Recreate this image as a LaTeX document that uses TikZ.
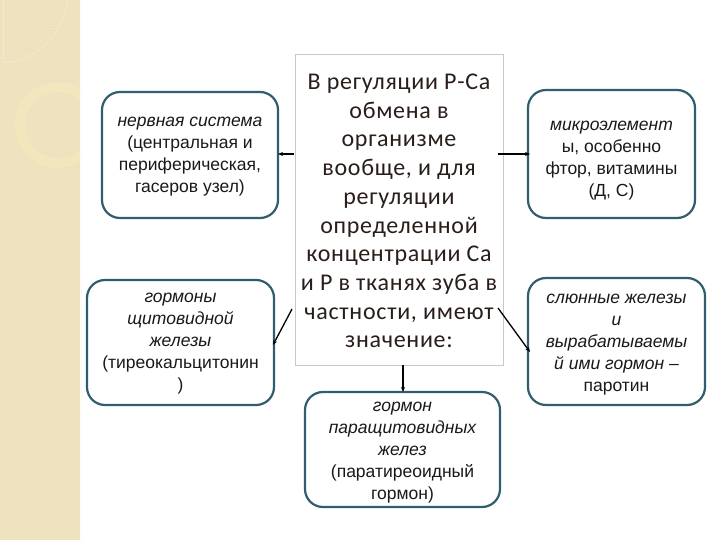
\documentclass[tikz,border=0pt]{standalone}
\usepackage{fontspec}
\setmainfont{Liberation Sans}
\newfontfamily\ctrfont[LetterSpace=3]{Carlito}
\usetikzlibrary{arrows.meta}
\definecolor{strip}{RGB}{238,225,192}
\definecolor{stripdeco}{RGB}{241,230,188}
\definecolor{boxline}{RGB}{49,94,110}
\definecolor{ctrline}{RGB}{200,200,200}
\definecolor{ctrtext}{RGB}{42,30,26}
\definecolor{boxtext}{RGB}{25,25,25}
\tikzset{
  rbox/.style={draw=boxline, line width=2.2bp, rounded corners=18bp, fill=white},
  btext/.style={align=center, text=boxtext, font=\fontsize{17.5bp}{22bp}\selectfont, inner sep=0pt},
  ctext/.style={align=center, text=ctrtext, font=\ctrfont\fontsize{24bp}{28.7bp}\selectfont, inner sep=0pt},
  conn/.style={draw=black, line width=1.3bp, -{Stealth[length=5bp,width=4bp]}}
}
\begin{document}
\begin{tikzpicture}[x=1bp,y=-1bp]
\useasboundingbox (0,0) rectangle (720,540);
\fill[white] (0,0) rectangle (720,540);
% left decorative strip
\fill[strip] (0,0) rectangle (80,540);
\foreach \yy in {1.5,4.5,...,540} {\draw[stripdeco!70!strip, line width=0.6bp] (0,\yy) -- (80,\yy);}
\begin{scope}
\clip (0,0) rectangle (80,540);
\fill[stripdeco, even odd rule] (58,125) circle (43) (58,125) circle (33);
\draw[strip!75!white, line width=0.8bp] (3,0) -- (3,62) -- (12,62);
\draw[strip!75!white, line width=0.8bp] (12,62) .. controls (45,55) and (62,30) .. (68,0);
\end{scope}
\draw[white!80!strip, line width=0.8bp] (81,0) -- (81,540);
% boxes
\draw[rbox] (102,92) rectangle (278,218);
\node[btext] (nerv) at (190,157) {\itshape нервная система\\(центральная и\\периферическая,\\гасеров узел)};
\coordinate (nervE) at (278,154);
\draw[rbox] (87,280) rectangle (274,405);
\node[btext] (horm) at (180.5,344) {\itshape гормоны\\\itshape щитовидной\\\itshape железы\\(тиреокальцитонин\\)};
\coordinate (hormE) at (273,345);
\draw[rbox] (528,90) rectangle (695,218);
\node[btext] (micro) at (611.5,161) {\itshape микроэлемент\\ы, особенно\\фтор, витамины\\(Д, С)};
\coordinate (microW) at (530,154);
\draw[rbox] (528,278) rectangle (705,405);
\node[btext] (sal) at (616.5,345) {\itshape слюнные железы\\\itshape и\\\itshape вырабатываемы\\\itshape й ими гормон –\\паротин};
\coordinate (salW) at (530,352);
\draw[rbox] (305,392) rectangle (500,507);
\node[btext] (para) at (402.5,453) {\itshape гормон\\\itshape паращитовидных\\\itshape желез\\(паратиреоидный\\гормон)};
\coordinate (paraN) at (403,392);
% center box
\node[draw=ctrline, line width=1bp, fill=white, minimum width=208bp, minimum height=310bp, inner sep=0pt] (ctr) at (399,210) {};
\node[ctext] (ctrt) at (399,211) {В регуляции Р-Са\\обмена в\\организме\\вообще, и для\\регуляции\\определенной\\концентрации Са\\и Р в тканях зуба в\\частности, имеют\\значение:};
% connectors
\coordinate (a1) at (294,154);
\coordinate (a2) at (498,154);
\coordinate (a3) at (292,309);
\coordinate (a4) at (498,308);
\coordinate (a5) at (403,365);
\draw[conn] (a1) -- (nervE);
\draw[conn] (a2) -- (microW);
\draw[conn] (a3) -- (hormE);
\draw[conn] (a4) -- (salW);
\draw[conn] (a5) -- (paraN);
\end{tikzpicture}
\end{document}
